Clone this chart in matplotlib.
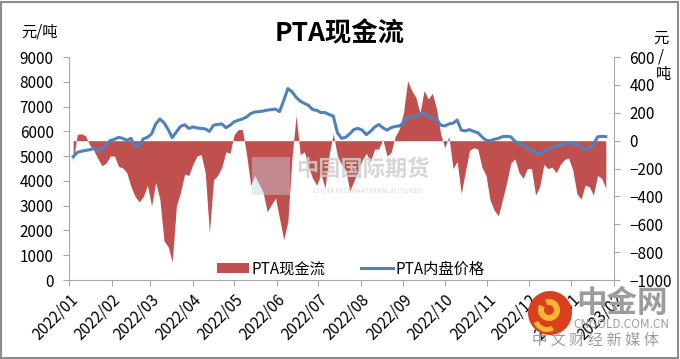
import numpy as np
import pandas as pd
import matplotlib
matplotlib.use('Agg')
import matplotlib.pyplot as plt
import matplotlib.dates as mdates
import matplotlib.patches as patches
import matplotlib.transforms as mtrans

plt.rcParams['font.family'] = ['Noto Sans CJK SC', 'DejaVu Sans']

# data: one sample every 3 days from 2022-01-04
start_date = '2022-01-04'
# PTA内盘价格 (元/吨, left axis)
price = [4980, 5150, 5200, 5230, 5260, 5310, 5200, 5300, 5480, 5630,
         5680, 5760, 5720, 5640, 5720, 5380, 5420, 5700, 5760, 5900,
         6300, 6500, 6350, 6080, 5750, 5980, 6200, 6270, 6120, 6180,
         6140, 6120, 6100, 6000, 6250, 6280, 6300, 6150, 6250, 6390,
         6450, 6500, 6580, 6720, 6780, 6800, 6820, 6860, 6880, 6900,
         6800, 7250, 7730, 7600, 7380, 7220, 7130, 7050, 6880, 6850,
         6760, 6760, 6680, 6620, 5950, 5720, 5760, 5900, 6080, 6120,
         6050, 5870, 6000, 6170, 6280, 6150, 6050, 6150, 6200, 6220,
         6350, 6580, 6620, 6580, 6700, 6720, 6600, 6550, 6500, 6250,
         6220, 6300, 6330, 6460, 6050, 6020, 6070, 6000, 5950, 5780,
         5640, 5620, 5680, 5720, 5790, 5800, 5780, 5600, 5520, 5460,
         5350, 5240, 5130, 5090, 5200, 5280, 5340, 5400, 5450, 5490,
         5530, 5520, 5460, 5360, 5280, 5330, 5450, 5780, 5800, 5790]
# PTA现金流 (元/吨, right axis)
cash = [-150, 45, 50, 35, -30, -70, -130, -180, -160, -110,
        -110, -185, -195, -230, -330, -400, -440, -400, -320, -470,
        -300, -420, -720, -760, -870, -470, -370, -240, -250, -170,
        -110, -100, -230, -660, -280, -250, -190, -80, -90, 45,
        80, 80, -100, -320, -250, -310, -370, -510, -460, -410,
        -560, -710, -580, -120, 180, -100, -80, -190, -270, -320,
        -240, -340, -100, 50, -110, -170, -210, -360, -290, -220,
        -140, -90, -150, -60, -60, 10, -110, -85, 30, 85,
        200, 430, 360, 310, 200, 360, 300, 340, 230, 50,
        -50, 30, -200, -150, -380, -220, -70, -50, -60, -190,
        -250, -430, -500, -540, -420, -300, -160, -130, -230, -270,
        -200, -200, -390, -330, -170, -200, -190, -230, -170, -135,
        -125, -210, -380, -420, -320, -330, -390, -250, -270, -340]

dates = pd.date_range(start_date, periods=len(price), freq='3D')

red = '#C0504D'
blue = '#4F81BD'
grey = '#A6A6A6'

fig = plt.figure(figsize=(6.8, 3.59), dpi=100)
ax = fig.add_axes([0.1015, 0.22, 0.8015, 0.621])
ax2 = ax.twinx()

ax2.fill_between(dates, 0, cash, color=red, lw=0, label='PTA现金流')
ax.plot(dates, price, color=blue, lw=2.2, label='PTA内盘价格')

ax.set_zorder(ax2.get_zorder() + 1)
ax.patch.set_visible(False)

ax.set_ylim(0, 9000)
ax.set_yticks(np.arange(0, 9001, 1000))
ax2.set_ylim(-1000, 600)
ax2.set_yticks(np.arange(-1000, 601, 200))

ax.set_xlim(pd.Timestamp('2022-01-01'), pd.Timestamp('2023-02-01'))
ax.xaxis.set_major_locator(mdates.MonthLocator())
ax.xaxis.set_major_formatter(mdates.DateFormatter('%Y/%m'))
shift = mtrans.ScaledTranslation(6 / 72, 0, fig.dpi_scale_trans)
for lab in ax.get_xticklabels():
    lab.set_rotation(45)
    lab.set_ha('right')
    lab.set_rotation_mode('anchor')
    lab.set_transform(lab.get_transform() + shift)

for a in (ax, ax2):
    for s in a.spines.values():
        s.set_color(grey)
    a.spines['top'].set_visible(False)
    a.tick_params(colors=grey, labelcolor='black', labelsize=11, length=4)
ax.spines['right'].set_visible(False)
ax2.spines['left'].set_visible(False)
ax2.spines['bottom'].set_visible(False)
ax.tick_params(axis='y', pad=7)
ax.tick_params(axis='x', pad=4)
ax2.tick_params(axis='y', pad=7)

h1, l1 = ax2.get_legend_handles_labels()
h2, l2 = ax.get_legend_handles_labels()
ax.legend(h1 + h2, l1 + l2, ncol=2, loc='center', bbox_to_anchor=(0.517, 0.05),
          frameon=False, fontsize=11, handlelength=2.1, handletextpad=0.2,
          columnspacing=2.3, borderpad=0)

fig.text(0.5, 0.905, 'PTA现金流', ha='center', va='center', fontsize=19, weight='bold')
fig.text(0.058, 0.91, '元/吨', ha='center', va='center', fontsize=11)
fig.text(0.972, 0.893, '元', ha='center', va='center', fontsize=11)
fig.text(0.972, 0.842, '/', ha='center', va='center', fontsize=11)
fig.text(0.976, 0.792, '吨', ha='center', va='center', fontsize=11)

# watermarks
fig.patches.append(patches.Rectangle((0.371, 0.457), 0.055, 0.105, transform=fig.transFigure,
                                     fc='#c5d3e3', ec='none', alpha=0.45, zorder=5))
fig.text(0.534, 0.527, '中国国际期货', ha='center', va='center', fontsize=16, weight='bold',
         color='#cfcfcf', alpha=0.85, zorder=6)
fig.text(0.54, 0.468, 'CHINA INTERNATIONAL FUTURES', ha='center', va='center', fontsize=5,
         color='#d8d8d8', zorder=6)

px = mtrans.IdentityTransform()
H = 359
fig.patches.append(patches.Circle((550, H - 313), 22, transform=px,
                                  fc='#d9411e', ec='none', zorder=7))
fig.patches.append(patches.Wedge((549, H - 310), 11, 150, 470, width=6, transform=px,
                                 fc='#f6b638', ec='none', zorder=8))
fig.patches.append(patches.Wedge((547, H - 318), 14, 200, 300, width=5, transform=px,
                                 fc='#f6b638', ec='none', zorder=8))
fig.text(0.915, 0.157, '中金网', ha='center', va='center', fontsize=22, weight='bold',
         color='#9c9c9c', zorder=8)
fig.text(0.914, 0.097, 'CNGOLD.COM.CN', ha='center', va='center', fontsize=8.5,
         color='#9c9c9c', zorder=8)
fig.text(0.875, 0.053, '中 文 财 经 新 媒 体', ha='center', va='center', fontsize=11,
         color='#9c9c9c', zorder=8)

fig.patches.append(patches.Rectangle((0.002, 0.004), 0.995, 0.991, transform=fig.transFigure,
                                     fill=False, ec='#8c8c8c', lw=1.5))

fig.savefig('out.png', dpi=100)
